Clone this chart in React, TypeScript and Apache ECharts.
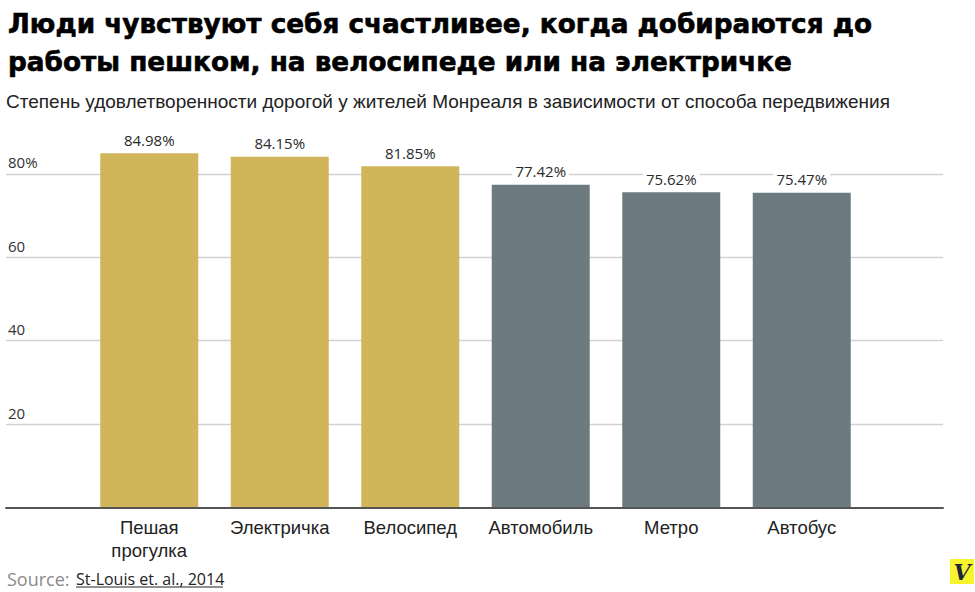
import React, { useEffect, useRef } from "react";
import * as echarts from "echarts";

const titleLines = [
  "Люди чувствуют себя счастливее, когда добираются до",
  "работы пешком, на велосипеде или на электричке",
];
const subtitle =
  "Степень удовлетворенности дорогой у жителей Монреаля в зависимости от способа передвижения";
const categories = ["Пешая\nпрогулка", "Электричка", "Велосипед", "Автомобиль", "Метро", "Автобус"];
const values = [84.98, 84.15, 81.85, 77.42, 75.62, 75.47];
const groups = ["active", "active", "active", "motor", "motor", "motor"];
const yTicks = [0, 20, 40, 60, 80, 100];
const sourceLabel = "Source:";
const sourceName = "St-Louis et. al., 2014";

const groupColors: Record<string, string> = { active: "#D0B55A", motor: "#6D7B81" };

export default function App() {
  const ref = useRef<HTMLDivElement>(null);
  useEffect(() => {
    if (!ref.current) return;
    const chart = echarts.init(ref.current, undefined, { renderer: "svg" });
    const yMin = yTicks[0];
    const yMax = yTicks[yTicks.length - 1];
    const yStep = yTicks[1] - yTicks[0];
    const gridTop = 90.6;
    const gridBottom = 84.5;
    chart.setOption({
      animation: false,
      backgroundColor: "#ffffff",
      title: [
        {
          text: titleLines.join("\n"),
          left: 8,
          top: 5,
          padding: 0,
          textStyle: {
            fontFamily: "DejaVu Sans, sans-serif",
            fontWeight: "bold",
            fontSize: 26.3,
            lineHeight: 38,
            color: "#000",
            textBorderColor: "#000",
            textBorderWidth: 0.6,
          },
        },
        {
          text: subtitle,
          left: 6,
          top: 92,
          padding: 0,
          textStyle: {
            fontFamily: "Liberation Sans, Arial, sans-serif",
            fontWeight: "normal",
            fontSize: 19,
            lineHeight: 19,
            color: "#222",
          },
        },
      ],
      grid: [
        { left: 6, right: 32, top: gridTop, bottom: gridBottom },
        { left: 84, right: 108, top: gridTop, bottom: gridBottom },
      ],
      xAxis: [
        {
          gridIndex: 0,
          type: "value",
          min: 0,
          max: 1,
          z: 5,
          axisLine: { show: true, lineStyle: { color: "#555", width: 2 } },
          axisTick: { show: false },
          axisLabel: { show: false },
          splitLine: { show: false },
        },
        {
          gridIndex: 1,
          type: "category",
          data: categories,
          axisLine: { show: false },
          axisTick: { show: false },
          axisLabel: {
            margin: 8,
            fontFamily: "Liberation Sans, Arial, sans-serif",
            fontSize: 18.5,
            lineHeight: 23,
            color: "#222",
            interval: 0,
          },
        },
      ],
      yAxis: [
        {
          gridIndex: 0,
          type: "value",
          min: yMin,
          max: yMax,
          interval: yStep,
          axisLine: { show: false },
          axisTick: { show: false },
          splitLine: {
            show: true,
            showMinLine: false,
            showMaxLine: false,
            lineStyle: { color: "#d2d2d2", width: 1.3 },
          },
          axisLabel: {
            inside: true,
            margin: 2,
            showMinLabel: false,
            showMaxLabel: false,
            verticalAlign: "bottom",
            padding: [0, 0, 4, 0],
            fontFamily: "Open Sans, sans-serif",
            fontSize: 15,
            color: "#333",
            formatter: (v: number) => (v === 80 ? v + "%" : String(v)),
          },
        },
        {
          gridIndex: 1,
          type: "value",
          min: yMin,
          max: yMax,
          show: false,
          splitLine: { show: false },
        },
      ],
      series: [
        {
          type: "bar",
          xAxisIndex: 1,
          yAxisIndex: 1,
          barWidth: 98,
          data: values.map((v, i) => ({
            value: v,
            itemStyle: { color: groupColors[groups[i]] },
          })),
          label: {
            show: true,
            position: "top",
            distance: 6,
            fontFamily: "Open Sans, sans-serif",
            fontSize: 15,
            color: "#2a2a2a",
            backgroundColor: "#ffffff",
            padding: [0, 3],
            formatter: (p: any) => p.value.toFixed(2) + "%",
          },
        },
      ],
      graphic: [
        {
          type: "text",
          x: 7,
          y: 579,
          style: {
            text: sourceLabel,
            fontFamily: "Open Sans, sans-serif",
            fontSize: 18,
            fill: "#8a8a8a",
            verticalAlign: "middle",
          },
        },
        {
          type: "text",
          x: 76,
          y: 579,
          style: {
            text: sourceName,
            fontFamily: "Open Sans, sans-serif",
            fontSize: 16,
            fill: "#222",
            verticalAlign: "middle",
          },
        },
        {
          type: "line",
          shape: { x1: 76, y1: 587, x2: 223, y2: 587 },
          style: { stroke: "#222", lineWidth: 1 },
        },
        {
          type: "rect",
          shape: { x: 950, y: 559, width: 24, height: 25 },
          style: { fill: "#F6F42C" },
        },
        {
          type: "text",
          x: 962,
          y: 572,
          style: {
            text: "V",
            fontFamily: "DejaVu Serif, serif",
            fontStyle: "italic",
            fontWeight: "bold",
            fontSize: 22,
            fill: "#1f2540",
            align: "center",
            verticalAlign: "middle",
          },
        },
      ],
    });
    return () => chart.dispose();
  }, []);
  return (
    <div
      ref={ref}
      style={{ position: "fixed", left: 0, top: 0, width: 975, height: 592 }}
    />
  );
}
